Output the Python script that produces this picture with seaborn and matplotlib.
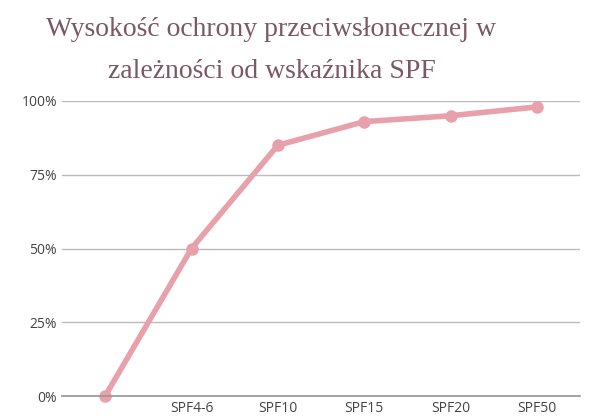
import matplotlib
matplotlib.use("Agg")
import matplotlib.pyplot as plt
import seaborn as sns
import pandas as pd
from matplotlib.ticker import FuncFormatter

categories = ["", "SPF4-6", "SPF10", "SPF15", "SPF20", "SPF50"]
values = [0, 50, 85, 93, 95, 98]

sns.set_theme(style="white")
plt.rcParams['font.family'] = ['Open Sans', 'DejaVu Sans']
fig = plt.figure(figsize=(5.92, 4.2), dpi=100)
ax = fig.add_axes([62/592, 1-396/420, (580-62)/592, (396-101)/420])
df = pd.DataFrame({"x": range(len(categories)), "y": values})
sns.lineplot(data=df, x="x", y="y", ax=ax, color="#e8a0aa", linewidth=4,
             marker="o", markersize=9, markeredgewidth=0)
for ln in ax.lines:
    ln.set_clip_on(False)
ax.set_xlim(-0.5, 5.5)
ax.set_ylim(0, 100)
ax.set_yticks([0, 25, 50, 75, 100])
ax.yaxis.set_major_formatter(FuncFormatter(lambda v, p: f"{int(v)}%"))
ax.set_xticks(range(len(categories)))
ax.set_xticklabels(categories)
ax.grid(axis="y", color="#bbbbbb", linewidth=1)
ax.set_axisbelow(True)
for s in ["top", "right", "left"]:
    ax.spines[s].set_visible(False)
ax.spines["bottom"].set_color("#999999")
ax.tick_params(axis="both", labelsize=10, colors="#444444", length=0)
ax.set_xlabel("")
ax.set_ylabel("")
fig.text(271/592, 1-30/420, "Wysokość ochrony przeciwsłonecznej w", ha="center", va="center",
         fontsize=20, color="#7a5866", family=["Liberation Serif", "DejaVu Serif"])
fig.text(272/592, 1-72/420, "zależności od wskaźnika SPF", ha="center", va="center",
         fontsize=20, color="#7a5866", family=["Liberation Serif", "DejaVu Serif"])
fig.savefig("out.png", dpi=100)
